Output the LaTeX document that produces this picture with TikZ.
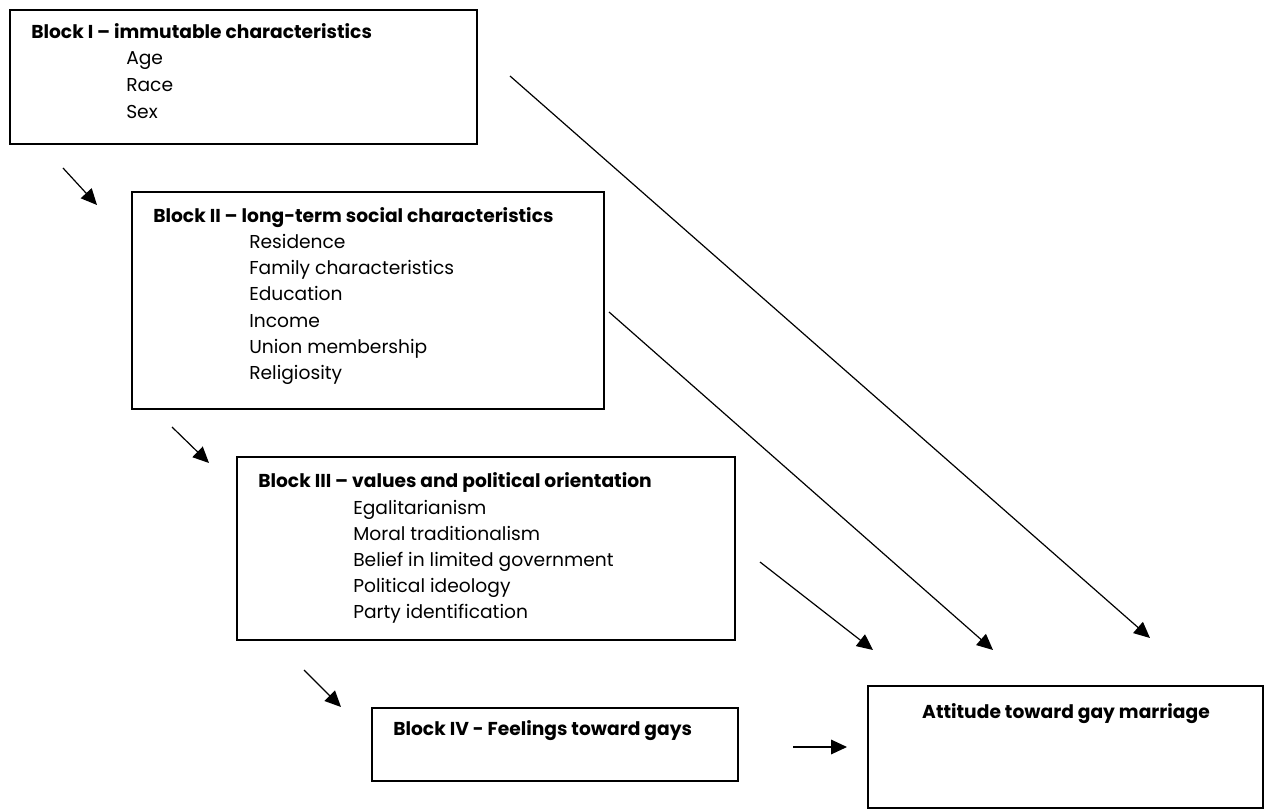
\documentclass[tikz,border=0pt]{standalone}
\usepackage{fontspec}
\setmainfont{Poppins}
\usetikzlibrary{arrows.meta}
\tikzset{
  blockbox/.style={draw, line width=1.1pt, inner sep=0pt, outer sep=0pt, anchor=north west},
  headtext/.style={font=\fontsize{14}{16}\selectfont\bfseries, inner sep=0pt, anchor=base west},
  itemtext/.style={font=\fontsize{14}{16}\selectfont, inner sep=0pt, anchor=base west},
  link/.style={-{Triangle[length=12pt,width=11pt]}, line width=0.9pt},
}
\begin{document}
\begin{tikzpicture}[x=0.75pt,y=-0.75pt]
\useasboundingbox (0,0) rectangle (1265,809);
% blocks
\node[blockbox, minimum width=350.25pt, minimum height=100.5pt] (blockI) at (10,10) {};
\node[blockbox, minimum width=354pt, minimum height=162.75pt] (blockII) at (132,192) {};
\node[blockbox, minimum width=373.5pt, minimum height=137.25pt] (blockIII) at (237,457) {};
\node[blockbox, minimum width=274.5pt, minimum height=54.75pt] (blockIV) at (372,708) {};
\node[blockbox, minimum width=296.25pt, minimum height=91.5pt] (attitude) at (868,686) {};
% block I
\node[headtext] (headI) at (31,39) {Block I – immutable characteristics};
\node[itemtext] (age) at (126,65) {Age};
\node[itemtext] (race) at (126,92) {Race};
\node[itemtext] (sex) at (126,119) {Sex};
% block II
\node[headtext] (headII) at (153,223) {Block II – long-term social characteristics};
\node[itemtext] (residence) at (249,249) {Residence};
\node[itemtext] (family) at (249,275) {Family characteristics};
\node[itemtext] (education) at (249,301) {Education};
\node[itemtext] (income) at (249,328) {Income};
\node[itemtext] (union) at (249,354) {Union membership};
\node[itemtext] (religiosity) at (249,380) {Religiosity};
% block III
\node[headtext] (headIII) at (258,488) {Block III – values and political orientation};
\node[itemtext] (egalitarian) at (353,514) {Egalitarianism};
\node[itemtext] (moral) at (353,540) {Moral traditionalism};
\node[itemtext] (government) at (353,566) {Belief in limited government};
\node[itemtext] (ideology) at (353,592) {Political ideology};
\node[itemtext] (party) at (353,618) {Party identification};
% block IV and outcome
\node[headtext] (headIV) at (393,735) {Block IV - Feelings toward gays};
\node[headtext, anchor=base] (headatt) at (1066,718) {Attitude toward gay marriage};
% arrow ends
\coordinate (sIa) at (63,168);   \coordinate (tIa) at (97,205);
\coordinate (sIIa) at (172,427); \coordinate (tIIa) at (209,463);
\coordinate (sIIIa) at (304,670); \coordinate (tIIIa) at (341,707);
\coordinate (sIVa) at (793,747); \coordinate (tIVa) at (847,747);
\coordinate (sIb) at (510,76);   \coordinate (tIb) at (1150,638);
\coordinate (sIIb) at (609,312); \coordinate (tIIb) at (993,650);
\coordinate (sIIIb) at (760,562); \coordinate (tIIIb) at (873,650);
\draw[link] (sIa) -- (tIa);
\draw[link] (sIIa) -- (tIIa);
\draw[link] (sIIIa) -- (tIIIa);
\draw[link] (sIVa) -- (tIVa);
\draw[link] (sIb) -- (tIb);
\draw[link] (sIIb) -- (tIIb);
\draw[link] (sIIIb) -- (tIIIb);
\end{tikzpicture}
\end{document}
